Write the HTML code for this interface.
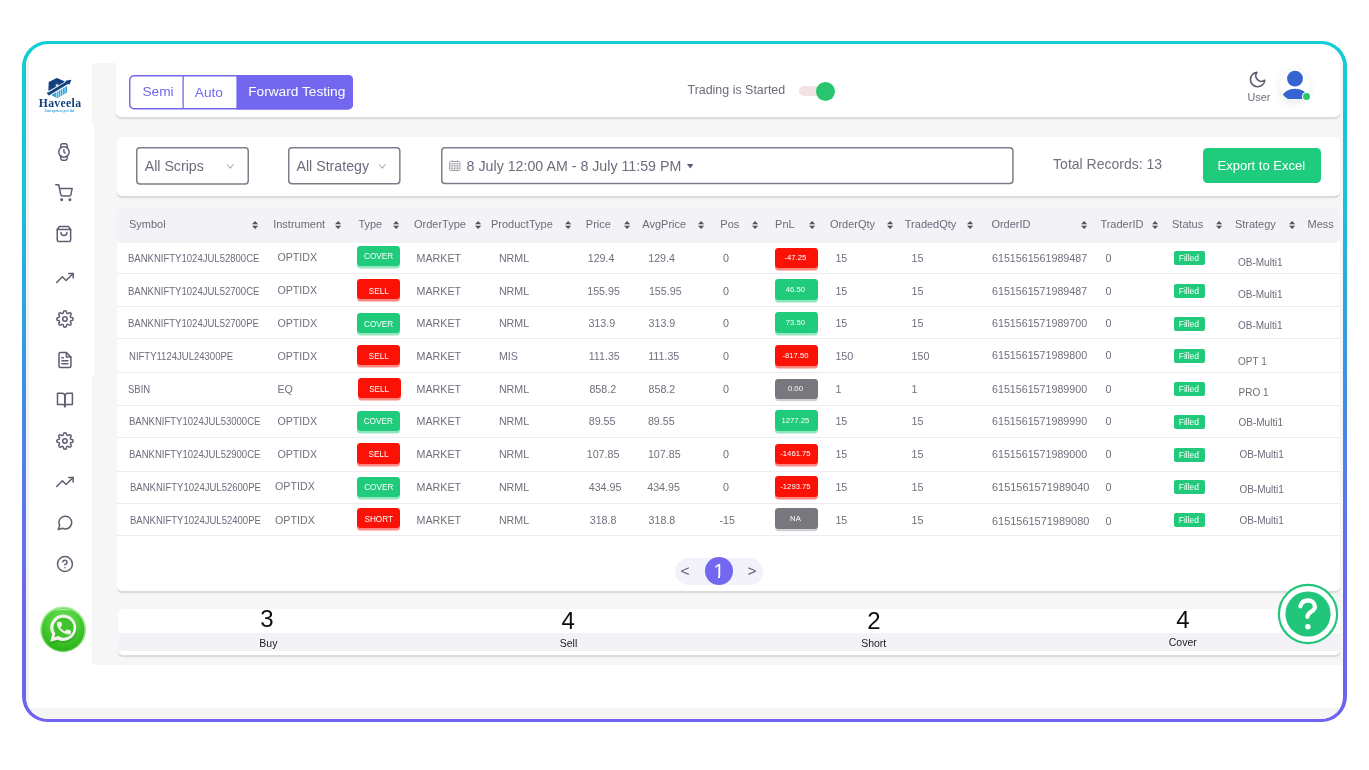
<!DOCTYPE html>
<html lang="en"><head><meta charset="utf-8"><title>Haveela - Forward Testing</title>
<style>
*{box-sizing:border-box;margin:0;padding:0}
html,body{width:1369px;height:770px;overflow:hidden;background:#fff;font-family:"Liberation Sans",sans-serif;color:#6e6b7b}
.abs,.abs *{position:absolute}
.abs{left:0;top:0;width:1369px;height:770px;will-change:transform}
.t{white-space:nowrap;line-height:1;transform:translateY(-50%)}
.frame{left:22px;top:40.9px;width:1325px;height:681.1px;border-radius:25.5px;background:linear-gradient(180deg,#12cdd4 0%,#19c3d8 22%,#3a92e6 49%,#5a79ec 66%,#6a69ee 80%,#6f63ef 100%)}
.inner{left:25.7px;top:44.3px;width:1317.7px;height:674.3px;border-radius:22px;background:#fff;overflow:hidden}
.white{background:#fff}
.card{background:#fff;border-radius:5px;box-shadow:0 2.2px .6px rgba(0,0,0,.105)}
.hd{font-size:11px;color:#6e6b7b}
.c{font-size:10.7px;color:#716f7c}
.sym{font-size:10px;color:#6e6b7b;transform:translateY(-50%) scaleX(.953);transform-origin:0 50%}
.st{font-size:10px;color:#6e6b7b}
.bdg{border-radius:3.4px;color:#fff;font-size:8.2px;text-align:center}
.bdg span{left:0;right:0;top:calc(50% + var(--o,1.1px));transform:translateY(-50%);line-height:1;white-space:nowrap;position:absolute;text-align:center}
.g{background:#20cb7c;box-shadow:0 2.4px .5px rgba(32,203,124,.48)}
.r{background:#fb1207;box-shadow:0 2.5px .5px rgba(251,18,7,.5)}
.k{background:#78777e;box-shadow:0 2.2px .5px rgba(122,121,127,.35)}
.fl{background:#21ca7a;border-radius:2px;color:#fff;font-size:8.5px}
.ln{height:1px;background:#edecf2;left:117px;width:1223px}
svg{overflow:visible}
.ic{stroke:#5f5b70;fill:none;stroke-width:2;stroke-linecap:round;stroke-linejoin:round}
</style></head><body>
<div class="abs">
<div class="frame"></div>
<div class="inner">
 <div style="left:0;top:14px;width:3.600px;height:665px;background:#f3f3f3"></div>
 <div style="left:0;top:663.5px;width:100%;height:11px;background:#f5f5f5"></div>
</div>
<div style="left:92.200px;top:63.400px;width:1251.200px;height:601.600px;background:#f6f6f6;border-radius:4px 0 0 4px"></div>
<div style="left:92.200px;top:125.4px;width:1.900px;height:250.6px;background:#fff"></div>

<div class="card" style="left:116.4px;top:63.5px;width:1223.6px;height:53px;border-radius:0 0 5px 5px"></div>
<div style="left:116.4px;top:58px;width:1223.6px;height:8px;background:#fff"></div>
<svg style="left:129.200px;top:74.800px" width="224" height="34.400" viewBox="0 0 224 34.400"><path d="M107.400 0H219.500a4.500 4.500 0 0 1 4.500 4.500V29.900a4.500 4.500 0 0 1-4.500 4.500H107.400z" fill="#7367f0"/><rect x=".7" y=".7" width="222.600" height="33" rx="4.200" fill="none" stroke="#7367f0" stroke-width="1.400"/><path d="M54.100 .7V33.700" stroke="#7367f0" stroke-width="1.300"/></svg>
<div class="t" style="left:142.4px;top:91.5px;font-size:13.7px;color:#7367f0">Semi</div>
<div class="t" style="left:194.8px;top:92.5px;font-size:13.7px;color:#7367f0">Auto</div>
<div class="t" style="left:248.2px;top:91.8px;font-size:13.7px;color:#fff">Forward Testing</div>
<div class="t" style="left:687.5px;top:89.6px;font-size:12.45px;color:#6e6b7b">Trading is Started</div>
<div style="left:798.7px;top:86.3px;width:30px;height:9.5px;border-radius:5px;background:#f3e3e5"></div>
<div style="left:815.6px;top:81.6px;width:19.4px;height:19.4px;border-radius:50%;background:#28c76f"></div>

<svg style="left:1248px;top:70.300px" width="19.200" height="19.200" viewBox="0 0 24 24" class="ic"><path d="M21 12.790A9 9 0 1 1 11.210 3 7 7 0 0 0 21 12.790z"/></svg>
<div class="t" style="left:1247.6px;top:97px;font-size:10.75px;color:#6e6b7b">User</div>
<div style="left:1279.600px;top:69.600px;width:30.800px;height:30.800px;border-radius:50%;background:#fff;box-shadow:0 3px 8px rgba(0,0,0,.1)"></div>
<svg style="left:1279px;top:69px" width="32" height="32" viewBox="1279 69 32 32"><defs><clipPath id="av"><circle cx="1295" cy="85" r="15.400"/></clipPath></defs>
<g clip-path="url(#av)"><circle cx="1295" cy="78.600" r="7.900" fill="#3563cf"/><ellipse cx="1295" cy="99.100" rx="13.300" ry="10.300" fill="#3563cf" clip-path="url(#av2)"/></g>
<defs><clipPath id="av2"><rect x="1279" y="69" width="32" height="30.100"/></clipPath></defs></svg>
<div style="left:1302.800px;top:92.800px;width:7.200px;height:7.200px;border-radius:50%;background:#28c76f;box-shadow:0 0 0 1px #fff"></div>

<div class="card" style="left:116.5px;top:137px;width:1223.5px;height:58.7px"></div>
<svg style="left:136.3px;top:147.1px" width="113.0" height="37.7"><rect x="0.75" y="0.75" width="111.50" height="36.20" rx="3.2" fill="#fff" stroke="#807d8b" stroke-width="1.5"/></svg>
<svg style="left:288px;top:147.0px" width="112.6" height="37.4"><rect x="0.75" y="0.75" width="111.10" height="35.90" rx="3.2" fill="#fff" stroke="#807d8b" stroke-width="1.5"/></svg>
<svg style="left:440.6px;top:147.1px" width="572.7" height="37.2"><rect x="0.75" y="0.75" width="571.20" height="35.70" rx="3.2" fill="#fff" stroke="#807d8b" stroke-width="1.5"/></svg>
<div class="t" style="left:144.7px;top:165.6px;font-size:14.2px;color:#6e6b7b">All Scrips</div>
<svg style="left:226.9px;top:163.800px" width="6.600" height="4.800" viewBox="0 0 6.600 4.800"><path d="M.3.3 3.300 4.300 6.300.3" fill="none" stroke="#8a8794" stroke-width=".85"/></svg>
<div class="t" style="left:296.5px;top:165.6px;font-size:14.2px;color:#6e6b7b">All Strategy</div>
<svg style="left:378.800px;top:163.800px" width="6.600" height="4.800" viewBox="0 0 6.600 4.800"><path d="M.3.3 3.300 4.300 6.300.3" fill="none" stroke="#8a8794" stroke-width=".85"/></svg>
<svg style="left:449.2px;top:160.200px" width="11.500" height="11.200" viewBox="0 0 11 10.500"><rect x=".5" y="1.300" width="10" height="8.700" rx="1" fill="none" stroke="#9d9ba6" stroke-width=".9"/><path d="M.5 3.400h10M.5 5.600h10M.5 7.800h10M3 3.400v6.600M5.500 3.400v6.600M8 3.400v6.600M3 0v2M8 0v2" stroke="#a3a1ac" stroke-width=".7" fill="none"/></svg>
<div class="t" style="left:466.6px;top:165.6px;font-size:14.22px;color:#6e6b7b">8 July 12:00 AM - 8 July 11:59 PM</div>
<svg style="left:687px;top:163.800px" width="6.400" height="4.400" viewBox="0 0 6.400 4.400"><path d="M0 0h6.400L3.200 4.400z" fill="#5e5873"/></svg>
<div class="t" style="left:1053.1px;top:163.7px;font-size:14px;color:#73717e">Total Records: 13</div>
<div style="left:1203.2px;top:148.2px;width:117.5px;height:34.8px;border-radius:4.5px;background:#1fcc7e"></div>
<div class="t" style="left:1217.6px;top:164.8px;font-size:13px;color:#fff">Export to Excel</div>

<div class="card" style="left:117px;top:208px;width:1223px;height:383px;overflow:hidden"></div>
<div style="left:117px;top:208px;width:1223px;height:35.100px;background:#f3f2f7;border-radius:5px"></div>

<div class="t hd" style="left:129px;top:224.4px">Symbol</div>
<svg style="left:252.4px;top:220.8px" width="6.2" height="8" viewBox="0 0 6.2 8"><path d="M3.1 0 6.2 3.3H0zM3.1 8 6.2 4.7H0z" fill="#53525c"/></svg>
<div class="t hd" style="left:273.2px;top:224.4px">Instrument</div>
<svg style="left:334.9px;top:220.8px" width="6.2" height="8" viewBox="0 0 6.2 8"><path d="M3.1 0 6.2 3.3H0zM3.1 8 6.2 4.7H0z" fill="#53525c"/></svg>
<div class="t hd" style="left:358.4px;top:224.4px">Type</div>
<svg style="left:392.9px;top:220.8px" width="6.2" height="8" viewBox="0 0 6.2 8"><path d="M3.1 0 6.2 3.3H0zM3.1 8 6.2 4.7H0z" fill="#53525c"/></svg>
<div class="t hd" style="left:414px;top:224.4px">OrderType</div>
<svg style="left:474.5px;top:220.8px" width="6.2" height="8" viewBox="0 0 6.2 8"><path d="M3.1 0 6.2 3.3H0zM3.1 8 6.2 4.7H0z" fill="#53525c"/></svg>
<div class="t hd" style="left:491px;top:224.4px">ProductType</div>
<svg style="left:564.6999999999999px;top:220.8px" width="6.2" height="8" viewBox="0 0 6.2 8"><path d="M3.1 0 6.2 3.3H0zM3.1 8 6.2 4.7H0z" fill="#53525c"/></svg>
<div class="t hd" style="left:585.8px;top:224.4px">Price</div>
<svg style="left:623.9px;top:220.8px" width="6.2" height="8" viewBox="0 0 6.2 8"><path d="M3.1 0 6.2 3.3H0zM3.1 8 6.2 4.7H0z" fill="#53525c"/></svg>
<div class="t hd" style="left:642.3px;top:224.4px">AvgPrice</div>
<svg style="left:698.4px;top:220.8px" width="6.2" height="8" viewBox="0 0 6.2 8"><path d="M3.1 0 6.2 3.3H0zM3.1 8 6.2 4.7H0z" fill="#53525c"/></svg>
<div class="t hd" style="left:720.3px;top:224.4px">Pos</div>
<svg style="left:752.3px;top:220.8px" width="6.2" height="8" viewBox="0 0 6.2 8"><path d="M3.1 0 6.2 3.3H0zM3.1 8 6.2 4.7H0z" fill="#53525c"/></svg>
<div class="t hd" style="left:775.1px;top:224.4px">PnL</div>
<svg style="left:809.3px;top:220.8px" width="6.2" height="8" viewBox="0 0 6.2 8"><path d="M3.1 0 6.2 3.3H0zM3.1 8 6.2 4.7H0z" fill="#53525c"/></svg>
<div class="t hd" style="left:829.9px;top:224.4px">OrderQty</div>
<svg style="left:886.9px;top:220.8px" width="6.2" height="8" viewBox="0 0 6.2 8"><path d="M3.1 0 6.2 3.3H0zM3.1 8 6.2 4.7H0z" fill="#53525c"/></svg>
<div class="t hd" style="left:904.8px;top:224.4px">TradedQty</div>
<svg style="left:967.4px;top:220.8px" width="6.2" height="8" viewBox="0 0 6.2 8"><path d="M3.1 0 6.2 3.3H0zM3.1 8 6.2 4.7H0z" fill="#53525c"/></svg>
<div class="t hd" style="left:991.4px;top:224.4px">OrderID</div>
<svg style="left:1080.9px;top:220.8px" width="6.2" height="8" viewBox="0 0 6.2 8"><path d="M3.1 0 6.2 3.3H0zM3.1 8 6.2 4.7H0z" fill="#53525c"/></svg>
<div class="t hd" style="left:1100.4px;top:224.4px">TraderID</div>
<svg style="left:1151.9px;top:220.8px" width="6.2" height="8" viewBox="0 0 6.2 8"><path d="M3.1 0 6.2 3.3H0zM3.1 8 6.2 4.7H0z" fill="#53525c"/></svg>
<div class="t hd" style="left:1172px;top:224.4px">Status</div>
<svg style="left:1215.6000000000001px;top:220.8px" width="6.2" height="8" viewBox="0 0 6.2 8"><path d="M3.1 0 6.2 3.3H0zM3.1 8 6.2 4.7H0z" fill="#53525c"/></svg>
<div class="t hd" style="left:1234.9px;top:224.4px">Strategy</div>
<svg style="left:1288.5px;top:220.8px" width="6.2" height="8" viewBox="0 0 6.2 8"><path d="M3.1 0 6.2 3.3H0zM3.1 8 6.2 4.7H0z" fill="#53525c"/></svg>
<div class="t hd" style="left:1307.5px;top:224.4px">Mess</div>
<div class="ln" style="top:273.2px"></div>
<div class="ln" style="top:305.7px"></div>
<div class="ln" style="top:338.3px"></div>
<div class="ln" style="top:371.8px"></div>
<div class="ln" style="top:404.6px"></div>
<div class="ln" style="top:436.5px"></div>
<div class="ln" style="top:470.8px"></div>
<div class="ln" style="top:502.9px"></div>
<div class="ln" style="top:534.7px"></div>
<div class="t sym" style="left:128.4px;top:258.7px">BANKNIFTY1024JUL52800CE</div>
<div class="t c" style="left:277.4px;top:257.4px">OPTIDX</div>
<div class="bdg g" style="left:357px;top:245.5px;width:43.1px;height:20.4px;--o:1.4px"><span>COVER</span></div>
<div class="t c" style="left:416.5px;top:257.9px">MARKET</div>
<div class="t c" style="left:498.9px;top:257.9px">NRML</div>
<div class="t c" style="left:587.7px;top:257.9px">129.4</div>
<div class="t c" style="left:648.2px;top:257.9px">129.4</div>
<div class="t c" style="left:723.1px;top:257.9px">0</div>
<div class="bdg r" style="left:774.8px;top:247.5px;width:43.1px;height:20.7px;font-size:7.7px;--o:.3px"><span style="left:-1.8px">-47.25</span></div>
<div class="t c" style="left:835.4px;top:257.9px">15</div>
<div class="t c" style="left:911.6px;top:257.9px">15</div>
<div class="t c" style="left:992px;top:257.7px">6151561561989487</div>
<div class="t c" style="left:1105.5px;top:257.7px">0</div>
<div class="fl" style="left:1174px;top:250.9px;width:31px;height:14.2px"><span class="t" style="left:-.6px;width:31px;text-align:center;top:7.1px">Filled</span></div>
<div class="t st" style="left:1238px;top:262.7px">OB-Multi1</div>
<div class="t sym" style="left:128.4px;top:291.5px">BANKNIFTY1024JUL52700CE</div>
<div class="t c" style="left:277.4px;top:290.2px">OPTIDX</div>
<div class="bdg r" style="left:357.2px;top:279.1px;width:43.1px;height:20.4px;--o:2.4px"><span>SELL</span></div>
<div class="t c" style="left:416.5px;top:290.7px">MARKET</div>
<div class="t c" style="left:498.9px;top:290.7px">NRML</div>
<div class="t c" style="left:587.2px;top:290.7px">155.95</div>
<div class="t c" style="left:648.9px;top:290.7px">155.95</div>
<div class="t c" style="left:723.1px;top:290.7px">0</div>
<div class="bdg g" style="left:774.8px;top:279.1px;width:43.1px;height:20.7px;font-size:7.7px;--o:.3px"><span style="left:-1.8px">46.50</span></div>
<div class="t c" style="left:835.4px;top:290.7px">15</div>
<div class="t c" style="left:911.6px;top:290.7px">15</div>
<div class="t c" style="left:992px;top:290.5px">6151561571989487</div>
<div class="t c" style="left:1105.5px;top:290.5px">0</div>
<div class="fl" style="left:1174px;top:283.7px;width:31px;height:14.2px"><span class="t" style="left:-.6px;width:31px;text-align:center;top:7.1px">Filled</span></div>
<div class="t st" style="left:1238px;top:294.7px">OB-Multi1</div>
<div class="t sym" style="left:128.4px;top:324.2px">BANKNIFTY1024JUL52700PE</div>
<div class="t c" style="left:277.4px;top:322.9px">OPTIDX</div>
<div class="bdg g" style="left:357.1px;top:313.1px;width:43.1px;height:20.4px;--o:1.4px"><span>COVER</span></div>
<div class="t c" style="left:416.5px;top:323.4px">MARKET</div>
<div class="t c" style="left:498.9px;top:323.4px">NRML</div>
<div class="t c" style="left:588.4px;top:323.4px">313.9</div>
<div class="t c" style="left:648.5px;top:323.4px">313.9</div>
<div class="t c" style="left:723.1px;top:323.4px">0</div>
<div class="bdg g" style="left:774.8px;top:312.4px;width:43.1px;height:20.7px;font-size:7.7px;--o:.3px"><span style="left:-1.8px">73.50</span></div>
<div class="t c" style="left:835.4px;top:323.4px">15</div>
<div class="t c" style="left:911.6px;top:323.4px">15</div>
<div class="t c" style="left:992px;top:323.1px">6151561571989700</div>
<div class="t c" style="left:1105.5px;top:323.1px">0</div>
<div class="fl" style="left:1174px;top:316.6px;width:31px;height:14.2px"><span class="t" style="left:-.6px;width:31px;text-align:center;top:7.1px">Filled</span></div>
<div class="t st" style="left:1238px;top:325.5px">OB-Multi1</div>
<div class="t sym" style="left:129.2px;top:356.8px">NIFTY1124JUL24300PE</div>
<div class="t c" style="left:277.4px;top:355.5px">OPTIDX</div>
<div class="bdg r" style="left:357.2px;top:345.1px;width:43.1px;height:20.4px;--o:1.9px"><span>SELL</span></div>
<div class="t c" style="left:416.5px;top:356.0px">MARKET</div>
<div class="t c" style="left:498.9px;top:356.0px">MIS</div>
<div class="t c" style="left:588.7px;top:356.0px">111.35</div>
<div class="t c" style="left:648.2px;top:356.0px">111.35</div>
<div class="t c" style="left:723.1px;top:356.0px">0</div>
<div class="bdg r" style="left:774.8px;top:344.9px;width:43.1px;height:20.7px;font-size:7.7px;--o:.3px"><span style="left:-1.8px">-817.50</span></div>
<div class="t c" style="left:835.4px;top:356.0px">150</div>
<div class="t c" style="left:911.6px;top:356.0px">150</div>
<div class="t c" style="left:992px;top:355.4px">6151561571989800</div>
<div class="t c" style="left:1105.5px;top:355.4px">0</div>
<div class="fl" style="left:1174px;top:349.3px;width:31px;height:14.2px"><span class="t" style="left:-.6px;width:31px;text-align:center;top:7.1px">Filled</span></div>
<div class="t st" style="left:1238px;top:361.7px">OPT 1</div>
<div class="t sym" style="left:128.4px;top:390.0px">SBIN</div>
<div class="t c" style="left:277.4px;top:388.7px">EQ</div>
<div class="bdg r" style="left:357.6px;top:377.7px;width:43.1px;height:20.4px;--o:2.1px"><span>SELL</span></div>
<div class="t c" style="left:416.5px;top:389.2px">MARKET</div>
<div class="t c" style="left:498.9px;top:389.2px">NRML</div>
<div class="t c" style="left:589.4px;top:389.2px">858.2</div>
<div class="t c" style="left:648.5px;top:389.2px">858.2</div>
<div class="t c" style="left:723.1px;top:389.2px">0</div>
<div class="bdg k" style="left:774.8px;top:378.5px;width:43.1px;height:20.7px;font-size:7.7px;--o:.3px"><span style="left:-1.8px">0.00</span></div>
<div class="t c" style="left:835.4px;top:389.2px">1</div>
<div class="t c" style="left:911.6px;top:389.2px">1</div>
<div class="t c" style="left:992px;top:389.3px">6151561571989900</div>
<div class="t c" style="left:1105.5px;top:389.3px">0</div>
<div class="fl" style="left:1174px;top:382.1px;width:31px;height:14.2px"><span class="t" style="left:-.6px;width:31px;text-align:center;top:7.1px">Filled</span></div>
<div class="t st" style="left:1238.5px;top:392.6px">PRO 1</div>
<div class="t sym" style="left:129.3px;top:422.1px">BANKNIFTY1024JUL53000CE</div>
<div class="t c" style="left:277.4px;top:420.8px">OPTIDX</div>
<div class="bdg g" style="left:356.7px;top:410.5px;width:43.1px;height:20.4px;--o:1.7px"><span>COVER</span></div>
<div class="t c" style="left:416.5px;top:421.3px">MARKET</div>
<div class="t c" style="left:498.9px;top:421.3px">NRML</div>
<div class="t c" style="left:588.7px;top:421.3px">89.55</div>
<div class="t c" style="left:647.9px;top:421.3px">89.55</div>
<div class="bdg g" style="left:774.8px;top:410.0px;width:43.1px;height:20.7px;font-size:7.7px;--o:.3px"><span style="left:-1.8px">1277.25</span></div>
<div class="t c" style="left:835.4px;top:421.3px">15</div>
<div class="t c" style="left:911.6px;top:421.3px">15</div>
<div class="t c" style="left:992px;top:420.9px">6151561571989990</div>
<div class="t c" style="left:1105.5px;top:420.9px">0</div>
<div class="fl" style="left:1174px;top:414.6px;width:31px;height:14.2px"><span class="t" style="left:-.6px;width:31px;text-align:center;top:7.1px">Filled</span></div>
<div class="t st" style="left:1238.5px;top:423.3px">OB-Multi1</div>
<div class="t sym" style="left:129.3px;top:454.7px">BANKNIFTY1024JUL52900CE</div>
<div class="t c" style="left:277.4px;top:454.4px">OPTIDX</div>
<div class="bdg r" style="left:357.0px;top:443.4px;width:43.1px;height:20.4px;--o:1.8px"><span>SELL</span></div>
<div class="t c" style="left:416.5px;top:453.9px">MARKET</div>
<div class="t c" style="left:498.9px;top:453.9px">NRML</div>
<div class="t c" style="left:586.7px;top:453.9px">107.85</div>
<div class="t c" style="left:647.9px;top:453.9px">107.85</div>
<div class="t c" style="left:723.1px;top:453.9px">0</div>
<div class="bdg r" style="left:774.8px;top:443.6px;width:43.1px;height:20.7px;font-size:7.7px;--o:.3px"><span style="left:-1.8px">-1461.75</span></div>
<div class="t c" style="left:835.4px;top:453.9px">15</div>
<div class="t c" style="left:911.6px;top:453.9px">15</div>
<div class="t c" style="left:992px;top:454.1px">6151561571989000</div>
<div class="t c" style="left:1105.5px;top:454.1px">0</div>
<div class="fl" style="left:1174px;top:447.8px;width:31px;height:14.2px"><span class="t" style="left:-.6px;width:31px;text-align:center;top:7.1px">Filled</span></div>
<div class="t st" style="left:1239.4px;top:454.5px">OB-Multi1</div>
<div class="t sym" style="left:129.6px;top:487.7px">BANKNIFTY1024JUL52600PE</div>
<div class="t c" style="left:275px;top:486.1px">OPTIDX</div>
<div class="bdg g" style="left:357.2px;top:476.6px;width:43.1px;height:20.4px;--o:1.0px"><span>COVER</span></div>
<div class="t c" style="left:416.5px;top:486.9px">MARKET</div>
<div class="t c" style="left:498.9px;top:486.9px">NRML</div>
<div class="t c" style="left:588.7px;top:486.9px">434.95</div>
<div class="t c" style="left:647.2px;top:486.9px">434.95</div>
<div class="t c" style="left:723.1px;top:486.9px">0</div>
<div class="bdg r" style="left:774.8px;top:476.4px;width:43.1px;height:20.7px;font-size:7.7px;--o:.3px"><span style="left:-1.8px">-1293.75</span></div>
<div class="t c" style="left:835.4px;top:486.9px">15</div>
<div class="t c" style="left:911.6px;top:486.9px">15</div>
<div class="t c" style="left:992px;top:487px;font-size:10.95px">6151561571989040</div>
<div class="t c" style="left:1105.5px;top:487px">0</div>
<div class="fl" style="left:1174px;top:480.2px;width:31px;height:14.2px"><span class="t" style="left:-.6px;width:31px;text-align:center;top:7.1px">Filled</span></div>
<div class="t st" style="left:1239.4px;top:490.3px">OB-Multi1</div>
<div class="t sym" style="left:129.6px;top:520.7px">BANKNIFTY1024JUL52400PE</div>
<div class="t c" style="left:275px;top:519.7px">OPTIDX</div>
<div class="bdg r" style="left:357.2px;top:508.0px;width:43.1px;height:20.4px;--o:1.8px"><span>SHORT</span></div>
<div class="t c" style="left:416.5px;top:519.9px">MARKET</div>
<div class="t c" style="left:498.9px;top:519.9px">NRML</div>
<div class="t c" style="left:589.7px;top:519.9px">318.8</div>
<div class="t c" style="left:648.5px;top:519.9px">318.8</div>
<div class="t c" style="left:719.5px;top:519.9px">-15</div>
<div class="bdg k" style="left:774.8px;top:508.2px;width:43.1px;height:20.7px;font-size:7.7px;--o:.3px"><span style="left:-1.8px">NA</span></div>
<div class="t c" style="left:835.4px;top:519.9px">15</div>
<div class="t c" style="left:911.6px;top:519.9px">15</div>
<div class="t c" style="left:992px;top:520.7px;font-size:10.95px">6151561571989080</div>
<div class="t c" style="left:1105.5px;top:520.7px">0</div>
<div class="fl" style="left:1174px;top:513.2px;width:31px;height:14.2px"><span class="t" style="left:-.6px;width:31px;text-align:center;top:7.1px">Filled</span></div>
<div class="t st" style="left:1239.4px;top:521.0px">OB-Multi1</div>
<div style="left:675.3px;top:558.1px;width:87.7px;height:26.5px;border-radius:13.300px;background:#f3f2fb"></div>
<div style="left:704.8px;top:557.2px;width:28.100px;height:28.100px;border-radius:50%;background:#7367f0"></div>
<div class="t" style="left:704.8px;width:28.100px;text-align:center;top:572.1px;font-size:19.6px;color:#fff">1</div>
<div style="left:713.300px;top:575.5px;width:4.500px;height:3.500px;background:#7367f0"></div><div style="left:720.300px;top:575.5px;width:4.500px;height:3.500px;background:#7367f0"></div>
<div class="t" style="left:680.6px;top:570.7px;font-size:15.5px;color:#5e5873">&lt;</div>
<div class="t" style="left:747.4px;top:570.7px;font-size:15.5px;color:#5e5873">&gt;</div>

<div class="card" style="left:118.3px;top:609.2px;width:1221.7px;height:45.800px;overflow:hidden"><div style="left:0;top:23.400px;width:100%;height:18.500px;background:#f3f2f7"></div></div>

<div class="t" style="left:227px;width:80px;text-align:center;top:618.9px;font-size:24px;color:#0e0e0e">3</div>
<div class="t" style="left:228.4px;width:80px;text-align:center;top:642.6px;font-size:10.5px;color:#1c1c1c">Buy</div>
<div class="t" style="left:528.2px;width:80px;text-align:center;top:621.3px;font-size:24px;color:#0e0e0e">4</div>
<div class="t" style="left:528.5px;width:80px;text-align:center;top:642.7px;font-size:10.5px;color:#1c1c1c">Sell</div>
<div class="t" style="left:834px;width:80px;text-align:center;top:621.0px;font-size:24px;color:#0e0e0e">2</div>
<div class="t" style="left:833.7px;width:80px;text-align:center;top:642.7px;font-size:10.5px;color:#1c1c1c">Short</div>
<div class="t" style="left:1143px;width:80px;text-align:center;top:620.0px;font-size:24px;color:#0e0e0e">4</div>
<div class="t" style="left:1142.8px;width:80px;text-align:center;top:641.6px;font-size:10.5px;color:#1c1c1c">Cover</div>
<svg style="left:1277.9px;top:583.5px" width="60" height="60" viewBox="-30 -30 60 60">
<circle r="29.100" fill="#fff" stroke="#22c67a" stroke-width="2.200"/><circle r="22.600" fill="#22c67a"/>
<path d="M-7.600-7.800C-6.600-11.400-3.700-13.500 0-13.500 4-13.500 6.900-10.900 6.900-7.300 6.900-2.200-.600-2.200-.600 2.800" fill="none" stroke="#fff" stroke-width="4.300" stroke-linecap="round"/><circle cx="-.100" cy="12.700" r="2.700" fill="#fff"/></svg>

<svg style="left:55.25px;top:142.55px" width="17.9" height="17.9" viewBox="0 0 24 24" class="ic"><circle cx="12" cy="12" r="7"/><polyline points="12 9 12 12 13.500 13.500"/><path d="M16.510 17.350l-.350 3.830a2 2 0 0 1-2 1.820H9.830a2 2 0 0 1-2-1.820l-.350-3.830m.010-10.700l.350-3.830A2 2 0 0 1 9.830 1h4.350a2 2 0 0 1 2 1.820l.350 3.830"/></svg>
<svg style="left:55.25px;top:183.65px" width="17.9" height="17.9" viewBox="0 0 24 24" class="ic"><circle cx="9" cy="21" r="1"/><circle cx="20" cy="21" r="1"/><path d="M1 1h4l2.680 13.390a2 2 0 0 0 2 1.610h9.720a2 2 0 0 0 2-1.610L23 6H6"/></svg>
<svg style="left:55.25px;top:225.35000000000002px" width="17.9" height="17.9" viewBox="0 0 24 24" class="ic"><path d="M6 2L3 6v14a2 2 0 0 0 2 2h14a2 2 0 0 0 2-2V6l-3-4z"/><line x1="3" y1="6" x2="21" y2="6"/><path d="M16 10a4 4 0 0 1-8 0"/></svg>
<svg style="left:56.25px;top:269.15000000000003px" width="17.9" height="17.9" viewBox="0 0 24 24" class="ic"><polyline points="23 6 13.500 15.500 8.500 10.500 1 18"/><polyline points="17 6 23 6 23 12"/></svg>
<svg style="left:56.25px;top:310.05px" width="17.9" height="17.9" viewBox="0 0 24 24" class="ic"><circle cx="12" cy="12" r="3"/><path d="M19.400 15a1.650 1.650 0 0 0 .330 1.820l.060.060a2 2 0 0 1 0 2.830 2 2 0 0 1-2.830 0l-.060-.060a1.650 1.650 0 0 0-1.820-.330 1.650 1.650 0 0 0-1 1.510V21a2 2 0 0 1-2 2 2 2 0 0 1-2-2v-.090A1.650 1.650 0 0 0 9 19.400a1.650 1.650 0 0 0-1.820.330l-.060.060a2 2 0 0 1-2.830 0 2 2 0 0 1 0-2.830l.060-.060a1.650 1.650 0 0 0 .330-1.820 1.650 1.650 0 0 0-1.510-1H3a2 2 0 0 1-2-2 2 2 0 0 1 2-2h.090A1.650 1.650 0 0 0 4.600 9a1.650 1.650 0 0 0-.330-1.820l-.060-.060a2 2 0 0 1 0-2.830 2 2 0 0 1 2.830 0l.060.060a1.650 1.650 0 0 0 1.820.330H9a1.650 1.650 0 0 0 1-1.510V3a2 2 0 0 1 2-2 2 2 0 0 1 2 2v.090a1.650 1.650 0 0 0 1 1.510 1.650 1.650 0 0 0 1.820-.330l.060-.060a2 2 0 0 1 2.830 0 2 2 0 0 1 0 2.830l-.060.060a1.650 1.650 0 0 0-.330 1.820V9a1.650 1.650 0 0 0 1.510 1H21a2 2 0 0 1 2 2 2 2 0 0 1-2 2h-.090a1.650 1.650 0 0 0-1.510 1z"/></svg>
<svg style="left:56.25px;top:351.15000000000003px" width="17.9" height="17.9" viewBox="0 0 24 24" class="ic"><path d="M14 2H6a2 2 0 0 0-2 2v16a2 2 0 0 0 2 2h12a2 2 0 0 0 2-2V8z"/><polyline points="14 2 14 8 20 8"/><line x1="16" y1="13" x2="8" y2="13"/><line x1="16" y1="17" x2="8" y2="17"/><polyline points="10 9 9 9 8 9"/></svg>
<svg style="left:56.349999999999994px;top:391.05px" width="17.9" height="17.9" viewBox="0 0 24 24" class="ic"><path d="M2 3h6a4 4 0 0 1 4 4v14a3 3 0 0 0-3-3H2z"/><path d="M22 3h-6a4 4 0 0 0-4 4v14a3 3 0 0 1 3-3h7z"/></svg>
<svg style="left:56.14999999999999px;top:431.95px" width="17.9" height="17.9" viewBox="0 0 24 24" class="ic"><circle cx="12" cy="12" r="3"/><path d="M19.400 15a1.650 1.650 0 0 0 .330 1.820l.060.060a2 2 0 0 1 0 2.830 2 2 0 0 1-2.830 0l-.060-.060a1.650 1.650 0 0 0-1.820-.330 1.650 1.650 0 0 0-1 1.510V21a2 2 0 0 1-2 2 2 2 0 0 1-2-2v-.090A1.650 1.650 0 0 0 9 19.400a1.650 1.650 0 0 0-1.820.330l-.060.060a2 2 0 0 1-2.830 0 2 2 0 0 1 0-2.830l.060-.060a1.650 1.650 0 0 0 .330-1.820 1.650 1.650 0 0 0-1.510-1H3a2 2 0 0 1-2-2 2 2 0 0 1 2-2h.090A1.650 1.650 0 0 0 4.600 9a1.650 1.650 0 0 0-.330-1.820l-.060-.060a2 2 0 0 1 0-2.830 2 2 0 0 1 2.830 0l.060.060a1.650 1.650 0 0 0 1.820.330H9a1.650 1.650 0 0 0 1-1.510V3a2 2 0 0 1 2-2 2 2 0 0 1 2 2v.090a1.650 1.650 0 0 0 1 1.510 1.650 1.650 0 0 0 1.820-.330l.060-.060a2 2 0 0 1 2.830 0 2 2 0 0 1 0 2.830l-.060.060a1.650 1.650 0 0 0-.330 1.820V9a1.650 1.650 0 0 0 1.510 1H21a2 2 0 0 1 2 2 2 2 0 0 1-2 2h-.090a1.650 1.650 0 0 0-1.510 1z"/></svg>
<svg style="left:56.349999999999994px;top:472.75px" width="17.9" height="17.9" viewBox="0 0 24 24" class="ic"><polyline points="23 6 13.500 15.500 8.500 10.500 1 18"/><polyline points="17 6 23 6 23 12"/></svg>
<svg style="left:56.05px;top:514.25px" width="17.9" height="17.9" viewBox="0 0 24 24" class="ic"><path d="M21 11.500a8.380 8.380 0 0 1-.900 3.800 8.500 8.500 0 0 1-7.600 4.700 8.380 8.380 0 0 1-3.800-.900L3 21l1.900-5.700a8.380 8.380 0 0 1-.900-3.800 8.500 8.500 0 0 1 4.700-7.600 8.380 8.380 0 0 1 3.800-.900h.500a8.480 8.480 0 0 1 8 8v.500z"/></svg>
<svg style="left:56.05px;top:554.8499999999999px" width="17.9" height="17.9" viewBox="0 0 24 24" class="ic"><circle cx="12" cy="12" r="10"/><path d="M9.090 9a3 3 0 0 1 5.830 1c0 2-3 3-3 3"/><line x1="12" y1="17" x2="12.010" y2="17"/></svg>
<svg style="left:44px;top:76px" width="30" height="24" viewBox="0 0 30 24">
<path d="M4.700 6.100 12.800 1.900 19.900 4.900 21 6 4.400 15z" fill="#0f3f7d"/>
<path d="M7.400 19.100 23.100 10.100 23.100 16.500 13.100 22.300z" fill="#2c9fd9"/>
<path d="M12.400 15v7M14.300 14v7.800M16.400 13v7.600M18.600 12v7.200M21 10.500v7.200" stroke="#fff" stroke-width=".65"/>
<path d="M2.700 17.100 22.300 5.300 21.400 4.700 27.500 3.800 25.200 8.900 24.300 7.700 4.800 19.500z" fill="#0f3f7d"/>
<path d="M4.200 16.200 21.300 5.900" stroke="#fff" stroke-width=".7"/>
<circle cx="13" cy="9.300" r=".9" fill="#fff"/><path d="M13 7v4.600M10.800 9.300h4.400M11.400 7.700l3.200 3.200M14.600 7.700l-3.200 3.200" stroke="#fff" stroke-width=".3"/>
</svg>
<div class="t" style="left:38.7px;top:103.9px;font-family:'Liberation Serif','DejaVu Serif',serif;font-weight:bold;font-size:11.7px;letter-spacing:.35px;color:#0f3f7d">Haveela</div>
<div class="t" style="left:44.6px;top:111.5px;font-family:'Liberation Serif',serif;font-weight:bold;font-size:3.6px;letter-spacing:.03px;color:#3aa0dc">Enterprises pvt ltd</div>

<svg style="left:40px;top:606px" width="46" height="47" viewBox="0 0 46 47">
<defs>
<radialGradient id="wg" cx="50%" cy="30%" r="75%"><stop offset="0" stop-color="#6fe05c"/><stop offset=".45" stop-color="#4dcf3a"/><stop offset=".85" stop-color="#2fb81e"/><stop offset="1" stop-color="#27a818"/></radialGradient>
<linearGradient id="wr" x1="0" y1="0" x2="0" y2="1"><stop offset="0" stop-color="#9aed8a"/><stop offset=".5" stop-color="#6fdc5c"/><stop offset="1" stop-color="#2fb51f"/></linearGradient>
</defs>
<circle cx="23.100" cy="23.300" r="22.700" fill="url(#wr)"/>
<circle cx="23.100" cy="23.500" r="21.200" fill="url(#wg)"/>
<path d="M13.500 5.400Q23.100 .8 32.700 5.400Q23.100 2.600 13.500 5.400z" fill="#eaffe4" opacity=".8"/>
<circle cx="23.100" cy="23.300" r="22.100" fill="none" stroke="#b6f2a8" stroke-width=".9" opacity=".55"/>
<path d="M23.500 8.500a13.200 13.200 0 0 0-11.300 20l-2 7.200 7.400-2A13.200 13.200 0 1 0 23.500 8.500z" fill="#1f8f12" opacity=".4" transform="translate(.6 2.200)"/>
<path d="M23.500 8.500a13.200 13.200 0 0 0-11.300 20l-2 7.200 7.400-2A13.200 13.200 0 1 0 23.500 8.500z" fill="#f3f3ee"/>
<path d="M23.500 11.700a10 10 0 0 0-8.200 15.700l-1.100 3.800 4-1.100A10 10 0 1 0 23.500 11.700z" fill="#3fc42d"/>
<path d="M6.620 10.790c1.440 2.830 3.760 5.140 6.590 6.590l2.200-2.200c.270-.270.670-.360 1.020-.240 1.120.370 2.330.570 3.570.570.550 0 1 .450 1 1V20c0 .550-.450 1-1 1-9.390 0-17-7.610-17-17 0-.550.450-1 1-1h3.500c.550 0 1 .450 1 1 0 1.250.200 2.450.570 3.570.110.350.030.740-.250 1.020l-2.200 2.200z" fill="#f3f3ee" stroke="#f3f3ee" stroke-width="1.100" stroke-linejoin="round" transform="translate(15 14.200) scale(.74 .66)"/>
</svg>

</div></body></html>
